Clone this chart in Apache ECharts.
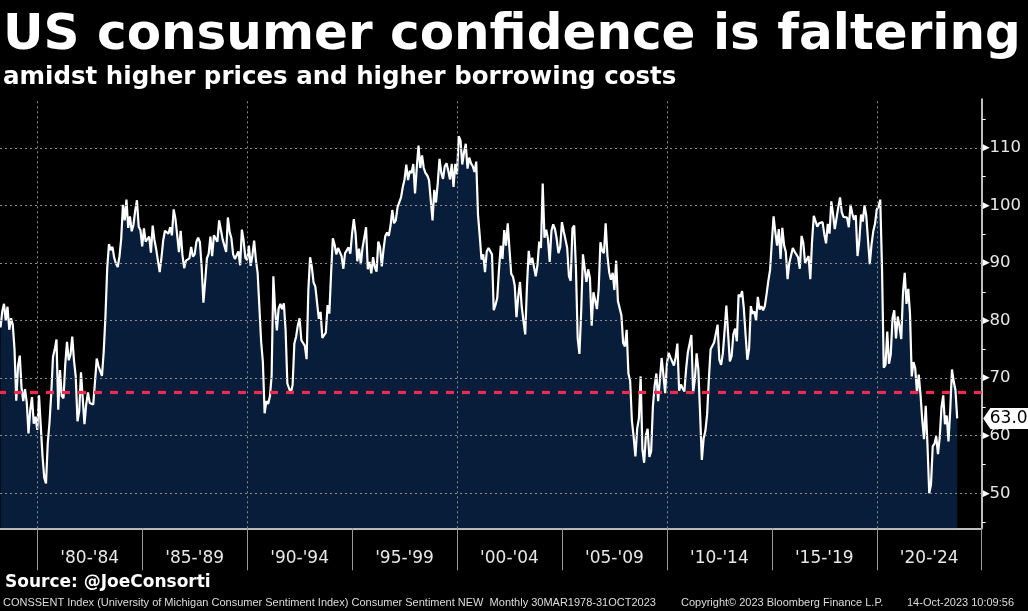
<!DOCTYPE html>
<html><head><meta charset="utf-8">
<script src="https://cdn.jsdelivr.net/npm/echarts@6.0.0/dist/echarts.min.js"></script>
<style>html,body{margin:0;padding:0;background:#000;}#chart{width:1028px;height:611px;}</style>
</head><body><div id="chart"></div>
<script>
// Monthly values, first value = March 1978 (dates are month-ends)
const startYear = 1978, startMonth = 3;
const v1978_79 = [78.8,81.6,82.9,80.0,82.4,78.4,80.4,79.3,75.0,66.1,
  72.1,73.9,68.4,66.0,68.1,65.8,60.4,64.5,66.7,62.1,63.3,61.0];
const v1980s = [67.0,66.9,56.5,52.7,51.7,58.7,62.3,67.3,73.7,75.0,76.7,64.5,
  71.4,66.9,66.5,72.4,76.3,73.1,74.1,77.2,73.1,70.3,62.5,64.3,
  71.0,66.5,62.0,65.5,67.5,65.7,65.4,65.4,69.3,73.4,72.1,71.9,
  70.4,74.6,80.8,89.1,93.3,92.2,92.8,90.9,89.9,89.3,91.1,94.2,
  100.1,97.4,101.0,96.1,98.1,95.5,96.6,99.1,100.9,96.3,95.7,92.9,
  96.0,93.7,93.7,94.6,91.8,96.5,94.0,92.4,92.1,88.4,90.9,93.9,
  95.6,95.9,95.1,96.2,94.8,99.3,97.7,94.9,91.9,95.6,91.4,89.1,
  90.4,90.2,90.8,92.8,91.1,91.5,93.7,94.4,93.6,89.3,83.1,86.8,
  90.8,91.6,94.6,91.2,94.8,94.7,93.7,97.4,97.3,94.1,93.0,91.9,
  97.9,95.4,94.3,91.5,90.7,90.6,92.0,89.6,95.8,93.9,90.9,90.5];
const v1990s = [93.0,89.5,91.3,93.9,90.6,88.3,88.2,76.4,72.8,63.9,66.0,65.5,
  66.8,70.4,87.7,81.8,78.3,82.1,82.9,82.0,83.0,78.3,69.1,68.2,
  67.5,68.8,76.0,77.2,79.2,80.4,76.6,76.1,75.6,73.3,85.3,91.0,
  89.3,86.6,85.9,85.6,80.3,81.5,77.0,77.3,77.9,82.7,81.2,88.2,
  94.3,93.2,91.5,92.6,92.8,91.2,89.0,91.7,91.5,92.7,91.6,95.1,
  97.6,95.1,90.3,92.5,89.8,92.7,94.4,96.2,88.9,90.2,88.2,91.0,
  89.3,88.5,93.7,92.7,89.4,92.4,94.7,95.3,94.7,96.5,99.2,96.9,
  97.4,99.7,100.0,101.4,103.2,104.5,107.1,104.4,106.0,105.6,107.2,102.1,
  106.6,110.4,106.5,108.7,106.5,105.6,105.2,104.4,100.9,97.4,102.7,100.5,
  103.9,108.1,105.7,104.6,106.8,107.3,106.0,104.5,107.2,103.2,107.2,105.4];
const v2000s = [112.0,111.3,107.1,109.2,110.7,106.4,108.3,107.3,106.8,105.8,107.6,98.4,
  94.7,90.6,91.5,88.4,92.0,92.6,92.4,91.5,81.8,82.7,83.9,88.8,
  93.0,90.7,95.7,93.0,96.9,92.4,88.1,87.6,86.1,80.6,84.2,86.7,
  82.4,79.9,77.6,86.0,92.1,89.7,90.9,89.3,87.7,89.6,93.7,92.6,
  103.8,94.4,95.8,94.2,90.2,95.6,96.7,95.9,94.2,91.7,92.8,97.1,
  95.5,94.1,92.6,87.7,86.9,96.0,96.5,89.1,76.9,74.2,81.6,91.5,
  91.2,86.7,88.9,87.4,79.1,84.9,84.7,82.0,85.4,93.6,92.1,91.7,
  96.9,91.3,88.4,87.1,88.3,85.3,90.4,83.4,83.4,80.9,76.1,75.5,
  78.4,70.8,69.5,62.6,59.8,56.4,61.2,63.0,70.3,57.6,55.3,60.1,
  61.2,56.3,57.3,65.1,68.7,70.8,66.0,65.7,73.5,70.6,67.4,72.5];
const v2010s = [74.4,73.6,73.6,72.2,73.6,76.0,67.8,68.9,68.2,67.7,71.6,74.5,
  74.2,77.5,67.5,69.8,74.3,71.5,63.7,55.8,59.5,60.8,63.7,69.9,
  75.0,75.3,76.2,76.4,79.3,73.2,72.3,74.3,78.3,82.6,82.7,72.9,
  73.8,77.6,78.6,76.4,84.5,84.1,85.1,82.1,77.5,73.2,75.1,82.5,
  81.2,81.6,80.0,84.1,81.9,82.5,81.8,82.5,84.6,86.9,88.8,93.6,
  98.1,95.4,93.0,95.9,90.7,96.1,93.1,91.9,87.2,90.0,91.3,92.6,
  92.0,91.7,91.0,89.0,94.7,93.5,90.0,89.8,91.2,87.2,93.8,98.2,
  98.5,96.3,96.9,97.0,97.1,95.0,93.4,96.8,95.1,100.7,98.5,95.9,
  95.7,99.7,101.4,98.8,98.0,98.2,97.9,96.2,100.1,98.6,97.5,98.3,
  91.2,93.8,98.4,97.2,100.0,98.2,98.4,89.8,93.2,95.5,96.8,99.3];
const v2020s = [99.8,101.0,89.1,71.8,72.3,78.1,72.5,74.1,80.4,81.8,76.9,80.7,
  79.0,76.8,84.9,88.3,82.9,85.5,81.2,70.3,72.8,71.7,67.4,70.6,
  67.2,62.8,59.4,65.2,58.4,50.0,51.5,58.2,58.6,59.9,56.8,59.7,
  64.9,67.0,62.0,63.5,59.0,64.4,71.5,69.4,67.9,63.0];

const refLevel = 67.6;
const xLabels = ["'80-'84","'85-'89","'90-'94","'95-'99","'00-'04","'05-'09","'10-'14","'15-'19","'20-'24"];
const xLabelCenters = [1982.5,1987.5,1992.5,1997.5,2002.5,2007.5,2012.5,2017.5,2022.5];
const xSeparators = [1980,1985,1990,1995,2000,2005,2010,2015,2020,2025];
const xGridYears = [1980,1990,2000,2010,2020];
const yLabelValues = [50,60,70,80,90,100,110];
const yMinorTicks = [45,55,65,75,85,95,105,115];
const xMin = 1978.225, xMax = 2025.0, yMin = 43.92, yMax = 118.48;

const values = [].concat(v1978_79, v1980s, v1990s, v2000s, v2010s, v2020s);
const data = values.map((v, i) => {
  const m = startMonth - 1 + i;
  const yr = startYear + Math.floor(m / 12);
  const mo = (m % 12) + 1;
  return [yr + mo / 12, v];
});
const lastValue = values[values.length - 1];

const FONT = 'DejaVu Sans';
const chart = echarts.init(document.getElementById('chart'), null, {renderer: 'canvas'});
const gridDot = {color: '#8c8c8c', type: [2, 3], width: 1};

chart.setOption({
  backgroundColor: '#000',
  animation: false,
  title: [
    {text: 'US consumer confidence is faltering', left: 3, top: 11, padding: 0,
     textStyle: {color: '#fff', fontSize: 50, fontWeight: 'bold', fontFamily: FONT}},
    {text: 'amidst higher prices and higher borrowing costs', left: 3, top: 65, padding: 0,
     textStyle: {color: '#fff', fontSize: 24.5, fontWeight: 'bold', fontFamily: FONT}},
    {text: 'Source: @JoeConsorti', left: 5, top: 574, padding: 0,
     textStyle: {color: '#fff', fontSize: 17, fontWeight: 'bold', fontFamily: FONT}},
    {text: 'CONSSENT Index (University of Michigan Consumer Sentiment Index) Consumer Sentiment NEW  Monthly 30MAR1978-31OCT2023',
     left: 3, top: 597, padding: 0, textStyle: {color: '#ddd', fontSize: 11, fontWeight: 'normal', fontFamily: 'Liberation Sans'}},
    {text: 'Copyright\u00a9 2023 Bloomberg Finance L.P.', left: 681, top: 597, padding: 0,
     textStyle: {color: '#ddd', fontSize: 11, fontWeight: 'normal', fontFamily: 'Liberation Sans'}},
    {text: '14-Oct-2023 10:09:56', left: 907, top: 597, padding: 0,
     textStyle: {color: '#ddd', fontSize: 11, fontWeight: 'normal', fontFamily: 'Liberation Sans'}}
  ],
  grid: {left: 0, right: 46.3, top: 99, bottom: 82.7, containLabel: false},
  xAxis: {
    type: 'value', min: xMin, max: xMax,
    axisLine: {show: true, lineStyle: {color: '#fff', width: 1.5}},
    axisTick: {show: true, customValues: xSeparators, length: 42, lineStyle: {color: '#9a9a9a', width: 1}},
    axisLabel: {show: true, customValues: xLabelCenters, margin: 22, color: '#e8e8e8', fontSize: 17, fontFamily: FONT,
      formatter: v => xLabels[Math.round((v - xLabelCenters[0]) / 5)]},
    splitLine: {show: false}
  },
  yAxis: {
    type: 'value', position: 'right', min: yMin, max: yMax,
    axisLine: {show: true, lineStyle: {color: '#fff', width: 1.5}},
    axisTick: {show: true, customValues: yMinorTicks, length: 4, lineStyle: {color: '#fff', width: 1}},
    axisLabel: {show: true, customValues: yLabelValues, margin: 1, fontFamily: FONT,
      formatter: v => '{t|\u25B6}{v|' + v + '}',
      rich: {t: {color: '#fff', fontSize: 9, fontFamily: FONT}, v: {color: '#e8e8e8', fontSize: 16.5, fontFamily: FONT}}},
    splitLine: {show: false}
  },
  series: [
    {type: 'line', data: data, symbol: 'none', silent: true, z: 1,
     lineStyle: {width: 0, opacity: 0},
     areaStyle: {color: '#081d3a', opacity: 1, origin: 'start'}},
    {type: 'line', data: [], z: 2, silent: true,
     markLine: {silent: true, symbol: ['none', 'none'], label: {show: false}, lineStyle: gridDot,
       data: yLabelValues.map(v => ({yAxis: v})).concat(xGridYears.map(y => ({xAxis: y})))}},
    {type: 'line', data: data, symbol: 'none', silent: true, z: 3,
     lineStyle: {color: '#fff', width: 2.2}},
    {type: 'line', data: [], z: 4, silent: true,
     markLine: {silent: true, symbol: ['none', 'none'], label: {show: false},
       lineStyle: {color: '#ee2a50', width: 3.2, type: [8, 8], dashOffset: 2},
       data: [{yAxis: refLevel}]},
     markPoint: {silent: true,
       symbol: 'path://M0,10L7,0L44,0L44,20L7,20Z', symbolSize: [45, 21], symbolKeepAspect: false,
       symbolOffset: [24, 0], itemStyle: {color: '#fff'},
       label: {show: true, color: '#000', fontSize: 17, fontFamily: FONT, offset: [3, 0],
         formatter: p => p.value.toFixed(1)},
       data: [{coord: [xMax, lastValue], value: lastValue}]}}
  ]
});
</script></body></html>
